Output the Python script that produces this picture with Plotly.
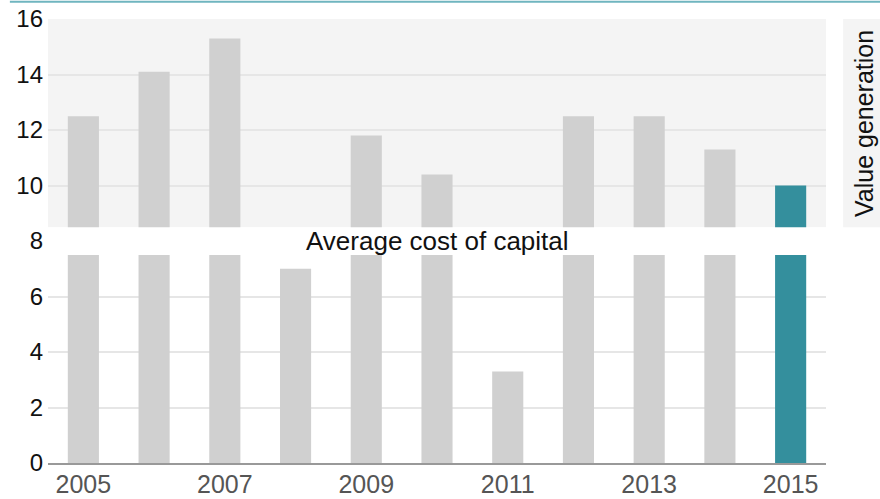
import plotly.graph_objects as go

years = [2005, 2006, 2007, 2008, 2009, 2010, 2011, 2012, 2013, 2014, 2015]
values = [12.5, 14.1, 15.3, 7.0, 11.8, 10.4, 3.3, 12.5, 12.5, 11.3, 10.0]
colors = ["#d0d0d0"] * 10 + ["#348f9d"]
cost_of_capital_band = [7.5, 8.5]
value_gen_band = [8.5, 16]
x_ticks = [2005, 2007, 2009, 2011, 2013, 2015]
y_ticks = [0, 2, 4, 6, 8, 10, 12, 14, 16]

FONT = "Liberation Sans, Arial, sans-serif"

fig = go.Figure()
fig.add_trace(go.Bar(x=years, y=values, marker=dict(color=colors, line=dict(width=0)),
                     width=0.44, showlegend=False))

# shaded "value generation" region
fig.add_shape(type="rect", xref="paper", yref="y", x0=0, x1=1,
              y0=value_gen_band[0], y1=value_gen_band[1],
              fillcolor="#f4f4f4", line=dict(width=0), layer="below")
# label box for value generation
fig.add_shape(type="rect", xref="paper", yref="y", x0=1.022, x1=1.075,
              y0=value_gen_band[0], y1=value_gen_band[1],
              fillcolor="#f4f4f4", line=dict(width=0), layer="below")
# white band for average cost of capital
fig.add_shape(type="rect", xref="paper", yref="y", x0=0, x1=1,
              y0=cost_of_capital_band[0], y1=cost_of_capital_band[1],
              fillcolor="white", line=dict(width=0), layer="above")
# top teal line
fig.add_shape(type="line", xref="paper", yref="paper", x0=-0.049, x1=1.08,
              y0=1.039, y1=1.039, line=dict(color="#6fb5bf", width=2))

fig.add_annotation(x=0.5, xref="paper", y=sum(cost_of_capital_band) / 2, yref="y",
                   text="Average cost of capital", showarrow=False,
                   font=dict(size=26, color="#111111", family=FONT))
fig.add_annotation(x=1.0694, xref="paper", xanchor="right", y=sum(value_gen_band) / 2, yref="y",
                   text="Value generation", showarrow=False, textangle=-90,
                   font=dict(size=25, color="#111111", family=FONT))

fig.update_layout(
    width=880, height=499,
    margin=dict(l=48, r=54, t=19, b=36, autoexpand=False),
    paper_bgcolor="white", plot_bgcolor="white",
    font=dict(family=FONT),
    bargap=0.56,
)
fig.update_xaxes(range=[2004.5, 2015.5], tickvals=x_ticks, ticktext=[str(t) for t in x_ticks],
                 showgrid=False, showline=True, linecolor="#999999", linewidth=2,
                 ticks="", tickfont=dict(size=25, color="#555555"), zeroline=False,
                 automargin=False, ticklabelstandoff=-2)
fig.update_yaxes(range=[0, 16], tickvals=y_ticks, showgrid=True, gridcolor="#e6e6e6",
                 gridwidth=2, ticks="", tickfont=dict(size=24, color="#111111"),
                 zeroline=False, ticklabelstandoff=4, automargin=False)

fig.write_html("out.html")
